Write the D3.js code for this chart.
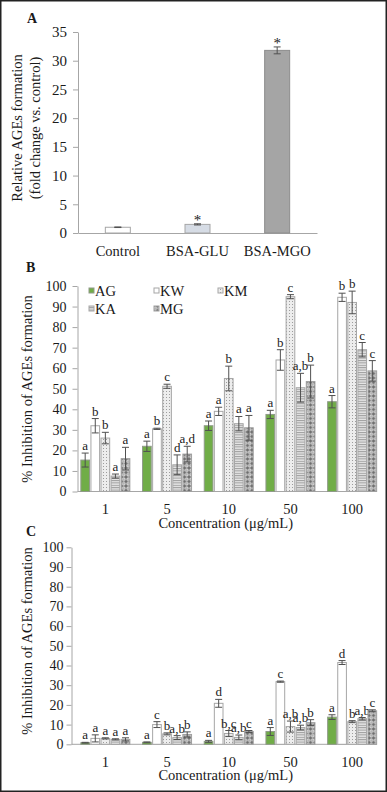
<!DOCTYPE html>
<html lang="en">
<head>
<meta charset="UTF-8">
<title>AGEs formation</title>
<script src="https://d3js.org/d3.v7.min.js"></script>
<style>
    body { margin: 0; background: #fff; }
    svg text { font-family: 'Liberation Serif', 'DejaVu Serif', serif; fill: #1a1a1a; }
</style>
</head>
<body>
<div id="chart"></div>
<script>
// ---- panel A ----
const aGroups = ["Control", "BSA-GLU", "BSA-MGO"];
const aValues = [1.0, 1.5, 31.8];
const aErrors = [0.05, 0.1, 0.6];
const aStars = ["", "*", "*"];
const foldTicks = [0, 5, 10, 15, 20, 25, 30, 35];

// ---- panels B and C ----
const concentrations = ["1", "5", "10", "50", "100"];
const extracts = ["AG", "KW", "KM", "KA", "MG"];
const pctTicks = [0, 10, 20, 30, 40, 50, 60, 70, 80, 90, 100];

// rows follow extracts, columns follow concentrations
const bMeans = [
    [15.3, 22.0, 32.0, 37.5, 43.7],
    [32.0, 30.5, 39.0, 64.0, 94.5],
    [26.0, 51.2, 55.0, 94.8, 92.0],
    [7.5, 13.0, 33.0, 50.5, 69.0],
    [16.0, 18.2, 31.0, 53.5, 58.7]
];
const bErrors = [
    [3.4, 2.5, 2.3, 2.0, 3.0],
    [3.5, 0.3, 2.0, 5.0, 2.0],
    [2.8, 1.0, 6.0, 1.0, 5.5],
    [1.0, 4.8, 3.5, 7.0, 3.5],
    [5.5, 3.8, 6.0, 8.0, 5.0]
];
const bLetters = [
    ["a", "a", "a", "a", "a"],
    ["b", "b", "a", "b", "b"],
    ["b", "c", "b", "c", "b"],
    ["a", "d", "a", "a,b", "c"],
    ["a", "a,d", "a", "b", "c"]
];

const cMeans = [
    [0.8, 1.0, 1.5, 6.5, 13.8],
    [3.0, 10.0, 20.8, 31.8, 41.5],
    [3.0, 5.3, 5.5, 9.0, 11.5],
    [2.5, 3.4, 3.5, 8.5, 13.0],
    [2.5, 5.0, 6.5, 11.0, 17.0]
];
const cErrors = [
    [0.2, 0.2, 0.5, 2.0, 1.2],
    [1.8, 1.5, 2.0, 0.3, 1.0],
    [0.3, 0.5, 1.5, 2.8, 0.5],
    [0.3, 1.0, 1.2, 1.2, 0.6],
    [0.8, 1.3, 0.5, 1.5, 0.5]
];
const cLetters = [
    ["a", "a", "a", "a", "a"],
    ["a", "c", "d", "c", "d"],
    ["a", "b", "b,c", "a,b", "b"],
    ["a", "a,b", "a,b", "a,b", "a,b"],
    ["a", "b", "c", "b", "c"]
];

const W = 387, H = 792;
const FONT = "'Liberation Serif', 'DejaVu Serif', serif";
const axisColor = "#a6a6a6";
const errColor = "#505050";

const svg = d3.select("#chart").append("svg")
    .attr("width", W)
    .attr("height", H)
    .attr("font-family", FONT);

// fill patterns for the extracts
const defs = svg.append("defs");

const dots = defs.append("pattern").attr("id", "dots")
    .attr("patternUnits", "userSpaceOnUse").attr("width", 3).attr("height", 3);
dots.append("rect").attr("width", 3).attr("height", 3).attr("fill", "#ededed");
dots.append("rect").attr("x", 1).attr("y", 1).attr("width", 0.9).attr("height", 0.9).attr("fill", "#8a8a8a");

const stripes = defs.append("pattern").attr("id", "stripes")
    .attr("patternUnits", "userSpaceOnUse").attr("width", 4).attr("height", 2.4);
stripes.append("rect").attr("width", 4).attr("height", 2.4).attr("fill", "#e6e6e6");
stripes.append("rect").attr("width", 4).attr("height", 1).attr("fill", "#9c9c9c");

const rings = defs.append("pattern").attr("id", "rings")
    .attr("patternUnits", "userSpaceOnUse").attr("width", 4.5).attr("height", 4.5);
rings.append("rect").attr("width", 4.5).attr("height", 4.5).attr("fill", "#6e6e6e");
rings.append("circle").attr("cx", 2.25).attr("cy", 2.25).attr("r", 1.5)
    .attr("fill", "#a8a8a8").attr("stroke", "#eeeeee").attr("stroke-width", 0.9);

const extractFill = {
    AG: "#70ad47", KW: "#ffffff", KM: "url(#dots)", KA: "url(#stripes)", MG: "url(#rings)"
};
const extractStroke = {
    AG: "#8f9a88", KW: "#a6a6a6", KM: "#a6a6a6", KA: "#a6a6a6", MG: "#a0a0a0"
};

// outer frame
svg.append("rect")
    .attr("x", 0.75).attr("y", 0.75)
    .attr("width", W - 1.5).attr("height", H - 1.5)
    .attr("fill", "none").attr("stroke", "#222").attr("stroke-width", 1.5);

function styleAxis(sel, fontSize) {
    sel.attr("font-family", FONT);
    sel.selectAll("path.domain").attr("stroke", axisColor);
    sel.selectAll(".tick line").attr("stroke", axisColor);
    sel.selectAll(".tick text")
        .attr("fill", "#1a1a1a")
        .style("font-family", FONT)
        .style("font-size", fontSize + "px");
}

function drawErrorBar(g, cx, yTop, yBot, cap) {
    g.append("line").attr("x1", cx).attr("x2", cx).attr("y1", yTop).attr("y2", yBot)
        .attr("stroke", errColor).attr("stroke-width", 1);
    [yTop, yBot].forEach(yy => {
        g.append("line").attr("x1", cx - cap / 2).attr("x2", cx + cap / 2)
            .attr("y1", yy).attr("y2", yy)
            .attr("stroke", errColor).attr("stroke-width", 1);
    });
}

// ---------------- Panel A ----------------
(function () {
    const g = svg.append("g");
    const axisX = 78, bottom = 233, top = 32, right = 317;
    const y = d3.scaleLinear().domain([0, 35]).range([bottom, top]);
    const x = d3.scaleBand().domain(aGroups).range([axisX, right]);
    const barW = 25;

    const yAx = g.append("g")
        .attr("transform", `translate(${axisX},0)`)
        .call(d3.axisLeft(y).tickValues(foldTicks).tickSize(5).tickPadding(6).tickSizeOuter(0));
    styleAxis(yAx, 15);

    const xAx = g.append("g")
        .attr("transform", `translate(0,${bottom})`)
        .call(d3.axisBottom(x).tickSize(0).tickPadding(13));
    styleAxis(xAx, 14.5);

    const fills = ["#ffffff", "#d6dce5", "#a5a5a5"];
    const strokes = ["#a6a6a6", "#a6a6a6", "#8c8c8c"];

    aGroups.forEach((name, i) => {
        const cx = x(name) + x.bandwidth() / 2;
        g.append("rect")
            .attr("x", cx - barW / 2)
            .attr("y", y(aValues[i]))
            .attr("width", barW)
            .attr("height", bottom - y(aValues[i]))
            .attr("fill", fills[i])
            .attr("stroke", strokes[i]);
        const eTop = y(aValues[i] + aErrors[i]);
        drawErrorBar(g, cx, eTop, y(aValues[i] - aErrors[i]), 7);
        if (aStars[i]) {
            g.append("text").attr("x", cx).attr("y", eTop + 1)
                .attr("text-anchor", "middle").style("font-size", "15px")
                .text(aStars[i]);
        }
    });

    g.append("text").attr("x", 27).attr("y", 23)
        .style("font-size", "14px").style("font-weight", "bold").text("A");

    const yMid = 128;
    g.append("text").attr("transform", `translate(22,${yMid}) rotate(-90)`)
        .attr("text-anchor", "middle").style("font-size", "14.5px")
        .text("Relative AGEs formation");
    g.append("text").attr("transform", `translate(40,${yMid}) rotate(-90)`)
        .attr("text-anchor", "middle").style("font-size", "14.5px")
        .text("(fold change vs. control)");
})();

// ---------------- Panels B and C ----------------
function groupedPanel(o) {
    const g = svg.append("g");
    const y = d3.scaleLinear().domain([0, 100]).range([o.bottom, o.top]);
    const x0 = d3.scaleBand().domain(concentrations).range([74.5, 383]);
    const groupW = 49;
    const x1 = d3.scaleBand().domain(extracts).range([0, groupW]).paddingInner(0.14);
    const off = (x0.bandwidth() - groupW) / 2;

    const yAx = g.append("g")
        .attr("transform", `translate(${o.axisX},0)`)
        .call(d3.axisLeft(y).tickValues(pctTicks).tickSize(5).tickPadding(o.tickPad).tickSizeOuter(0));
    styleAxis(yAx, 14);

    const xAx = g.append("g")
        .attr("transform", `translate(0,${o.bottom})`)
        .call(d3.axisBottom(x0).tickSize(0).tickPadding(12));
    xAx.select("path.domain").remove();
    styleAxis(xAx, 14.5);
    g.append("line")
        .attr("x1", o.axisX).attr("x2", 377)
        .attr("y1", o.bottom).attr("y2", o.bottom)
        .attr("stroke", axisColor);

    extracts.forEach((ex, si) => {
        concentrations.forEach((c, ci) => {
            const v = o.means[si][ci];
            const e = o.errors[si][ci];
            const bx = x0(c) + off + x1(ex);
            const bw = x1.bandwidth();
            g.append("rect")
                .attr("x", bx).attr("y", y(v))
                .attr("width", bw).attr("height", o.bottom - y(v))
                .attr("fill", extractFill[ex])
                .attr("stroke", extractStroke[ex])
                .attr("stroke-width", 1);
            const cx = bx + bw / 2;
            const eTop = y(v + e);
            drawErrorBar(g, cx, eTop, y(Math.max(0, v - e)), 7);
            g.append("text").attr("x", cx).attr("y", eTop - 3)
                .attr("text-anchor", "middle").style("font-size", "13px")
                .text(o.letters[si][ci]);
        });
    });

    g.append("text")
        .attr("x", (74.5 + 377) / 2).attr("y", o.bottom + 36)
        .attr("text-anchor", "middle").style("font-size", "14.5px")
        .text("Concentration (μg/mL)");

    g.append("text").attr("transform", `translate(32,${o.titleMid}) rotate(-90)`)
        .attr("text-anchor", "middle").style("font-size", "14.5px")
        .text("% Inhibition of AGEs formation");

    g.append("text").attr("x", 26).attr("y", o.letterY)
        .style("font-size", "14px").style("font-weight", "bold").text(o.letter);

    if (o.legend) {
        const pos = [[89, 290.5], [154, 290.5], [218, 290.5], [89, 308.5], [154, 308.5]];
        extracts.forEach((ex, i) => {
            const [lx, ly] = pos[i];
            g.append("rect").attr("x", lx).attr("y", ly - 2.5)
                .attr("width", 5).attr("height", 5)
                .attr("fill", extractFill[ex]).attr("stroke", extractStroke[ex]);
            g.append("text").attr("x", lx + 6).attr("y", ly + 5.5)
                .style("font-size", "14.5px").text(ex);
        });
    }
}

groupedPanel({
    means: bMeans, errors: bErrors, letters: bLetters,
    top: 286, bottom: 491.5, axisX: 77.5, tickPad: 6,
    titleMid: 389, letter: "B", letterY: 272, legend: true
});

groupedPanel({
    means: cMeans, errors: cErrors, letters: cLetters,
    top: 547.3, bottom: 744.3, axisX: 71.5, tickPad: 3,
    titleMid: 641, letter: "C", letterY: 536, legend: false
});
</script>
</body>
</html>
